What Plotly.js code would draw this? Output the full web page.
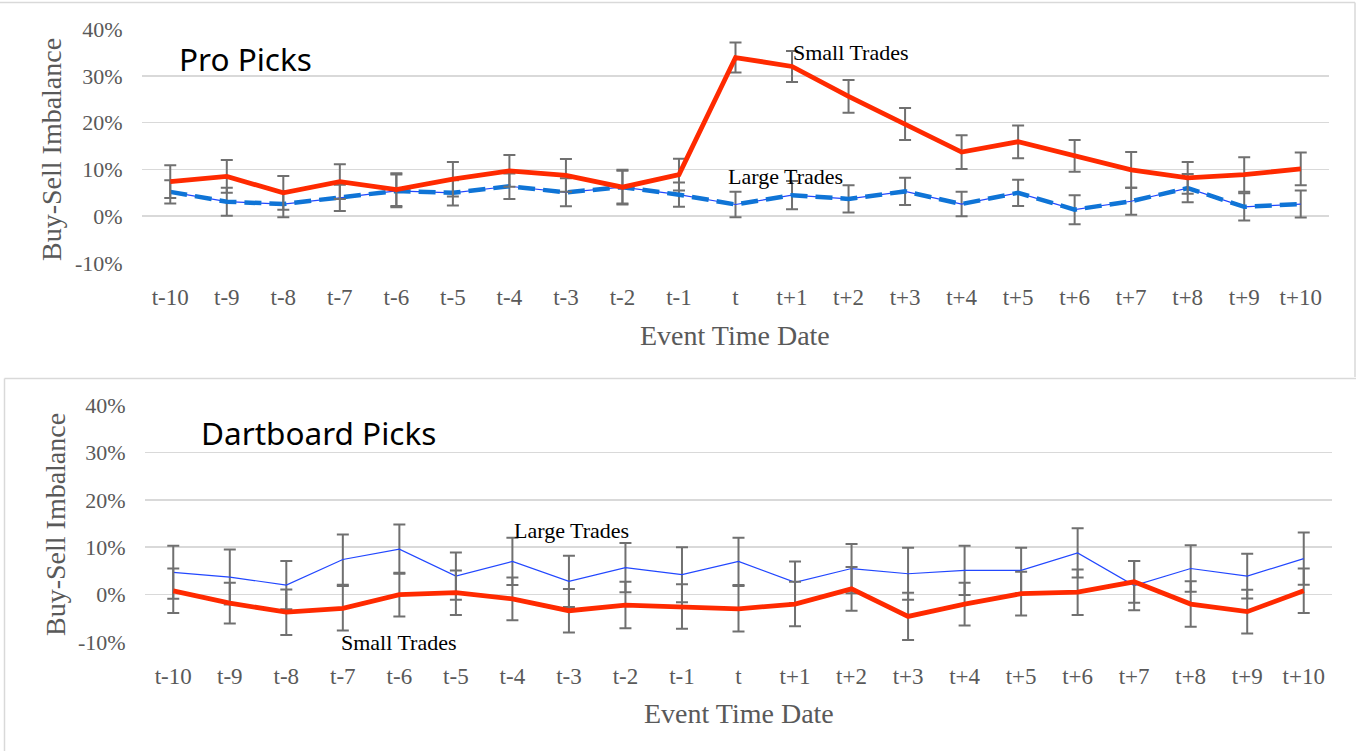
<!DOCTYPE html>
<html>
<head>
<meta charset="utf-8">
<script src="https://cdn.plot.ly/plotly-3.0.1.min.js"></script>
<style>
  html, body { margin: 0; padding: 0; background: #ffffff; }
  #chart { width: 1356px; height: 751px; }
</style>
</head>
<body>
<div id="chart"></div>
<script>
// ---------- data (percent) ----------
const categories = ['t-10','t-9','t-8','t-7','t-6','t-5','t-4','t-3','t-2','t-1','t',
                    't+1','t+2','t+3','t+4','t+5','t+6','t+7','t+8','t+9','t+10'];

const proSmall     = [7.4, 8.5, 5.0, 7.4, 5.7, 7.9, 9.7, 8.7, 6.2, 8.9, 33.9, 32.0, 25.6, 19.7, 13.7, 15.9, 12.9, 9.9, 8.2, 8.9, 10.1];
const proSmallErr  = [3.5, 3.5, 3.6, 3.7, 3.5, 3.7, 3.4, 3.5, 3.5, 3.4, 3.2, 3.3, 3.5, 3.4, 3.6, 3.5, 3.4, 3.8, 3.4, 3.7, 3.5];
const proLarge     = [5.2, 3.1, 2.6, 3.9, 5.4, 5.0, 6.4, 5.1, 6.2, 4.6, 2.5, 4.5, 3.7, 5.3, 2.6, 5.0, 1.4, 3.2, 6.0, 2.0, 2.6];
const proLargeErr  = [2.5, 3.0, 2.8, 2.8, 3.5, 2.7, 2.7, 3.0, 3.7, 2.6, 2.7, 3.0, 2.9, 2.9, 2.6, 2.8, 3.1, 2.9, 3.0, 2.9, 2.9];

const dartSmall    = [0.8, -1.8, -3.7, -2.9, 0.0, 0.4, -0.9, -3.4, -2.2, -2.5, -3.0, -2.0, 1.2, -4.6, -2.0, 0.2, 0.5, 2.7, -2.0, -3.6, 0.8];
const dartSmallErr = [4.7, 4.3, 4.8, 4.7, 4.6, 4.7, 4.5, 4.6, 4.9, 4.7, 4.8, 4.7, 4.6, 5.0, 4.5, 4.6, 4.8, 4.4, 4.8, 4.6, 4.7];
const dartLarge    = [4.7, 3.7, 2.0, 7.4, 9.6, 3.9, 7.0, 2.8, 5.7, 4.2, 7.0, 2.6, 5.5, 4.4, 5.1, 5.1, 8.8, 1.9, 5.5, 3.9, 7.6];
const dartLargeErr = [5.6, 5.8, 5.1, 5.3, 5.2, 5.0, 5.0, 5.4, 5.2, 5.8, 5.0, 4.4, 5.2, 5.5, 5.2, 4.8, 5.2, 5.2, 4.9, 4.7, 5.5];

const yTickVals = [-10, 0, 10, 20, 30, 40];
const yTickText = ['-10%', '0%', '10%', '20%', '30%', '40%'];

// ---------- styling ----------
const W = 1356, H = 751;
const px = x => x / W;
const py = y => 1 - y / H;
const RED = '#ff2a00';
const BLUE_THIN = '#2247ff';
const BLUE_DASH = '#0f74d6';
const ERR = '#707070';
const GRID = '#d9d9d9';
const TXT = '#595959';
const SERIF = 'Liberation Serif, Times New Roman, serif';
const SANS = 'Noto Sans, Open Sans, sans-serif';

function err(arr) {
  return { type: 'data', array: arr, visible: true, color: ERR, thickness: 2, width: 6 };
}

const traces = [
  // Pro Picks - Large trades (thin solid + thick dashed overlay)
  { x: categories, y: proLarge, xaxis: 'x', yaxis: 'y', mode: 'lines', type: 'scatter',
    line: { color: BLUE_THIN, width: 1.2 }, error_y: err(proLargeErr) },
  { x: categories, y: proLarge, xaxis: 'x', yaxis: 'y', mode: 'lines', type: 'scatter',
    line: { color: BLUE_DASH, width: 4.5, dash: '17px,8px' } },
  // Pro Picks - Small trades
  { x: categories, y: proSmall, xaxis: 'x', yaxis: 'y', mode: 'lines', type: 'scatter',
    line: { color: RED, width: 4.8 }, error_y: err(proSmallErr) },
  // Dartboard - Large trades
  { x: categories, y: dartLarge, xaxis: 'x2', yaxis: 'y2', mode: 'lines', type: 'scatter',
    line: { color: BLUE_THIN, width: 1.2 }, error_y: err(dartLargeErr) },
  // Dartboard - Small trades
  { x: categories, y: dartSmall, xaxis: 'x2', yaxis: 'y2', mode: 'lines', type: 'scatter',
    line: { color: RED, width: 4.8 }, error_y: err(dartSmallErr) }
];

const xAxisBase = {
  type: 'category', range: [-0.5, 20.5], showgrid: false, zeroline: false, showline: false,
  ticks: 'outside', ticklen: 13, tickcolor: 'rgba(0,0,0,0)',
  tickfont: { family: SERIF, size: 23, color: TXT }, fixedrange: true
};
const yAxisBase = {
  range: [-10, 40], tickvals: yTickVals, ticktext: yTickText,
  showgrid: true, gridcolor: GRID, gridwidth: 1.5, zeroline: false, showline: false,
  ticks: 'outside', ticklen: 14, tickcolor: 'rgba(0,0,0,0)',
  tickfont: { family: SERIF, size: 22, color: TXT }, fixedrange: true
};

const layout = {
  width: W, height: H,
  margin: { l: 0, r: 0, t: 0, b: 0 },
  paper_bgcolor: '#ffffff', plot_bgcolor: 'rgba(0,0,0,0)',
  showlegend: false,
  xaxis:  Object.assign({}, xAxisBase, { domain: [px(142), px(1329)], anchor: 'y' }),
  yaxis:  Object.assign({}, yAxisBase, { domain: [py(263), py(29)], anchor: 'x' }),
  xaxis2: Object.assign({}, xAxisBase, { domain: [px(145), px(1332)], anchor: 'y2' }),
  yaxis2: Object.assign({}, yAxisBase, { domain: [py(642), py(405)], anchor: 'x2' }),
  shapes: [
    { type: 'line', xref: 'paper', yref: 'paper', x0: 0, x1: px(1355), y0: py(2.5), y1: py(2.5), line: { color: GRID, width: 1.5 } },
    { type: 'line', xref: 'paper', yref: 'paper', x0: px(1355), x1: px(1355), y0: py(2.5), y1: py(377), line: { color: GRID, width: 1.5 } },
    { type: 'line', xref: 'paper', yref: 'paper', x0: px(4.5), x1: 1, y0: py(378.5), y1: py(378.5), line: { color: GRID, width: 1.5 } },
    { type: 'line', xref: 'paper', yref: 'paper', x0: px(4.5), x1: px(4.5), y0: py(378.5), y1: 0, line: { color: GRID, width: 1.5 } }
  ],
  annotations: [
    { text: 'Pro Picks', xref: 'paper', yref: 'paper', x: px(177), y: py(58), xanchor: 'left', yanchor: 'middle',
      showarrow: false, font: { family: SANS, size: 31.5, color: '#000000' } },
    { text: 'Dartboard Picks', xref: 'paper', yref: 'paper', x: px(199), y: py(432), xanchor: 'left', yanchor: 'middle',
      showarrow: false, font: { family: SANS, size: 31.5, color: '#000000' } },
    { text: 'Small Trades', xref: 'paper', yref: 'paper', x: px(791), y: py(52), xanchor: 'left', yanchor: 'middle',
      showarrow: false, font: { family: SERIF, size: 22, color: '#000000' } },
    { text: 'Large Trades', xref: 'paper', yref: 'paper', x: px(726), y: py(176), xanchor: 'left', yanchor: 'middle',
      showarrow: false, font: { family: SERIF, size: 22, color: '#000000' } },
    { text: 'Large Trades', xref: 'paper', yref: 'paper', x: px(512), y: py(530), xanchor: 'left', yanchor: 'middle',
      showarrow: false, font: { family: SERIF, size: 22, color: '#000000' } },
    { text: 'Small Trades', xref: 'paper', yref: 'paper', x: px(339), y: py(642), xanchor: 'left', yanchor: 'middle',
      showarrow: false, font: { family: SERIF, size: 22, color: '#000000' } },
    { text: 'Buy-Sell Imbalance', xref: 'paper', yref: 'paper', x: px(52), y: py(150), xanchor: 'center', yanchor: 'middle',
      textangle: -90, showarrow: false, font: { family: SERIF, size: 28, color: TXT } },
    { text: 'Buy-Sell Imbalance', xref: 'paper', yref: 'paper', x: px(55), y: py(525), xanchor: 'center', yanchor: 'middle',
      textangle: -90, showarrow: false, font: { family: SERIF, size: 28, color: TXT } },
    { text: 'Event Time Date', xref: 'paper', yref: 'paper', x: px(735), y: py(335), xanchor: 'center', yanchor: 'middle',
      showarrow: false, font: { family: SERIF, size: 28, color: TXT } },
    { text: 'Event Time Date', xref: 'paper', yref: 'paper', x: px(739), y: py(713), xanchor: 'center', yanchor: 'middle',
      showarrow: false, font: { family: SERIF, size: 28, color: TXT } }
  ]
};

Plotly.newPlot('chart', traces, layout, { staticPlot: true, displayModeBar: false });
</script>
</body>
</html>
